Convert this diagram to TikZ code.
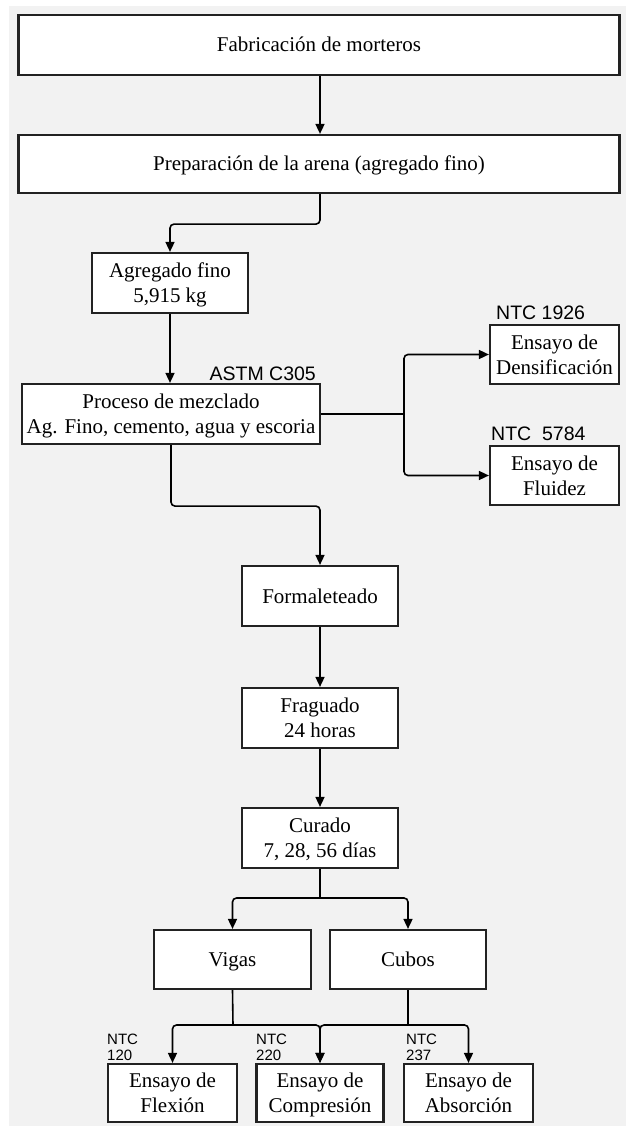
\documentclass[tikz,border=0pt]{standalone}
\usepackage{fontspec}
\setmainfont{Liberation Serif}
\newfontfamily\labfont{Liberation Sans}
\usetikzlibrary{arrows.meta}
\definecolor{bg}{HTML}{F2F2F2}
\definecolor{bord}{HTML}{222222}
\newcommand\st{\rule[-5.5pt]{0pt}{25pt}}
\begin{document}
\begin{tikzpicture}[x=1pt,y=-1pt,
  box/.style={draw=bord,line width=2.2pt,fill=white,inner sep=0pt,align=center,
    font=\fontsize{21}{25}\selectfont},
  lab/.style={font=\labfont\fontsize{19.5}{20}\selectfont,inner sep=0pt},
  slab/.style={font=\labfont\fontsize{15}{16}\selectfont,inner sep=0pt,align=left},
  conn/.style={line width=1.6pt,rounded corners=4pt},
  arr/.style={conn,-{Triangle[length=10pt,width=9pt]}}]
\useasboundingbox (0,0) rectangle (626,1126);
\fill[white] (0,0) rectangle (626,1126);
\fill[bg] (9,6) rectangle (626,1126);

\node[box,minimum width=601pt,minimum height=60pt] (n1) at (319,45) {\st Fabricación de morteros};
\node[box,minimum width=601pt,minimum height=58pt] (n2) at (319,164) {\st Preparación de la arena (agregado fino)};
\node[box,minimum width=156pt,minimum height=60pt] (n3) at (170,283) {\st Agregado fino\\\st 5,915 kg};
\node[box,minimum width=298pt,minimum height=60pt] (n4) at (171,414) {\st Proceso de mezclado\\\st Ag. Fino, cemento, agua y escoria};
\node[box,minimum width=129pt,minimum height=59pt] (n5) at (554.5,354.5) {\st Ensayo de\\\st Densificación};
\node[box,minimum width=129pt,minimum height=59pt] (n6) at (554.5,475.5) {\st Ensayo de\\\st Fluidez};
\node[box,minimum width=156pt,minimum height=60pt] (n7) at (320,596) {\st Formaleteado};
\node[box,minimum width=156pt,minimum height=60pt] (n8) at (320,718) {\st Fraguado\\\st 24 horas};
\node[box,minimum width=156pt,minimum height=60pt] (n9) at (320,838) {\st Curado\\\st 7, 28, 56 días};
\node[box,minimum width=157pt,minimum height=59pt] (n10) at (232.5,959.5) {\st Vigas};
\node[box,minimum width=156pt,minimum height=59pt] (n11) at (408,959.5) {\st Cubos};
\node[box,minimum width=129pt,minimum height=58pt] (n12) at (172.5,1093) {\st Ensayo de\\\st Flexión};
\node[box,minimum width=127pt,minimum height=58pt] (n13) at (320,1093) {\st Ensayo de\\\st Compresión};
\node[box,minimum width=129pt,minimum height=58pt] (n14) at (468.5,1093) {\st Ensayo de\\\st Absorción};

\node[lab,anchor=south east] (l1) at (316,381) {ASTM C305};
\node[lab,anchor=south west] (l2) at (496,320) {NTC 1926};
\node[lab,anchor=south west] (l3) at (491,441) {NTC\ \ 5784};
\node[slab,anchor=south west] (l4) at (107,1061) {NTC\\120};
\node[slab,anchor=south west] (l5) at (256,1061) {NTC\\220};
\node[slab,anchor=south west] (l6) at (406,1061) {NTC\\237};

\coordinate (j1) at (404,414);
\coordinate (j2) at (320,898);
\coordinate (j3) at (233,1025);
\coordinate (j4) at (408,1025);

\draw[arr] (n1.south -| n7.north) -- (n2.north -| n7.north);
\draw[arr] (n2.south -| n7.north) -- ++(0,30) -| (n3.north);
\draw[arr] (n3.south) -- (n4.north -| n3.south);
\draw[conn] (n4.east) -- (j1);
\draw[arr] (j1) |- (n5.west);
\draw[arr] (j1) |- (n6.west);
\draw[arr] (n4.south) -- ++(0,61) -| (n7.north);
\draw[arr] (n7.south) -- (n8.north);
\draw[arr] (n8.south) -- (n9.north);
\draw[conn] (n9.south) -- (j2);
\draw[arr] (j2) -| (n10.north);
\draw[arr] (j2) -| (n11.north);
\draw[conn] (n10.south) -- (j3);
\draw[conn] (n11.south) -- (j4);
\draw[arr] (j3) -| (n12.north);
\draw[arr] (j3) -| (n13.north);
\draw[arr] (j4) -| (n13.north);
\draw[arr] (j4) -| (n14.north);
\end{tikzpicture}
\end{document}
